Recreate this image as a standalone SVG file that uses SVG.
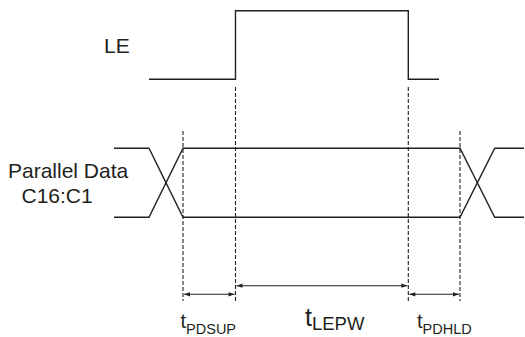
<svg xmlns="http://www.w3.org/2000/svg" width="525" height="337" viewBox="0 0 525 337">
<style>
.w{fill:none;stroke:#231f20;stroke-width:1.4}
.d{fill:none;stroke:#231f20;stroke-width:1.1;stroke-dasharray:4,2}
.a{fill:none;stroke:#231f20;stroke-width:1.1}
text{font-family:"Liberation Sans",Arial,sans-serif;fill:#231f20}
</style>
<defs>
<marker id="ah" viewBox="0 0 10 10" refX="10" refY="5" markerWidth="7" markerHeight="6" orient="auto-start-reverse" markerUnits="userSpaceOnUse">
<path d="M0,1.5 L10,5 L0,8.5 Z" fill="#231f20"/>
</marker>
</defs>
<g id="le-signal">
<polyline class="w" points="149,79.3 235.5,79.3 235.5,10.7 408.3,10.7 408.3,79.3 439,79.3"/>
<text x="104" y="53.3" font-size="21">LE</text>
</g>
<g id="data-signal">
<polyline class="w" points="114,148.3 149,148.3 183,217.3 460,217.3 494.7,148.3 524,148.3"/>
<polyline class="w" points="114,217.3 149,217.3 183,148.3 460,148.3 494.7,217.3 524,217.3"/>
<text x="8" y="177.7" font-size="21">Parallel Data</text>
<text x="21.5" y="203" font-size="21">C16:C1</text>
</g>
<g id="guides">
<line class="d" x1="183" y1="131" x2="183" y2="301"/>
<line class="d" x1="235.5" y1="87" x2="235.5" y2="301"/>
<line class="d" x1="408.3" y1="87" x2="408.3" y2="301"/>
<line class="d" x1="460" y1="131" x2="460" y2="301"/>
</g>
<g id="connectors">
<line class="a" x1="184" y1="294.3" x2="234.5" y2="294.3" marker-start="url(#ah)" marker-end="url(#ah)"/>
<line class="a" x1="236.5" y1="285.7" x2="407.3" y2="285.7" marker-start="url(#ah)" marker-end="url(#ah)"/>
<line class="a" x1="409.3" y1="294.3" x2="459" y2="294.3" marker-start="url(#ah)" marker-end="url(#ah)"/>
</g>
<g id="labels">
<text x="180.5" y="327.5" font-size="20">t<tspan font-size="14.5" dy="6.5">PDSUP</tspan></text>
<text x="305" y="325.5" font-size="25">t<tspan font-size="18.5" dy="4">LEPW</tspan></text>
<text x="417" y="327.5" font-size="20">t<tspan font-size="14.5" dy="6.5">PDHLD</tspan></text>
</g>
</svg>
